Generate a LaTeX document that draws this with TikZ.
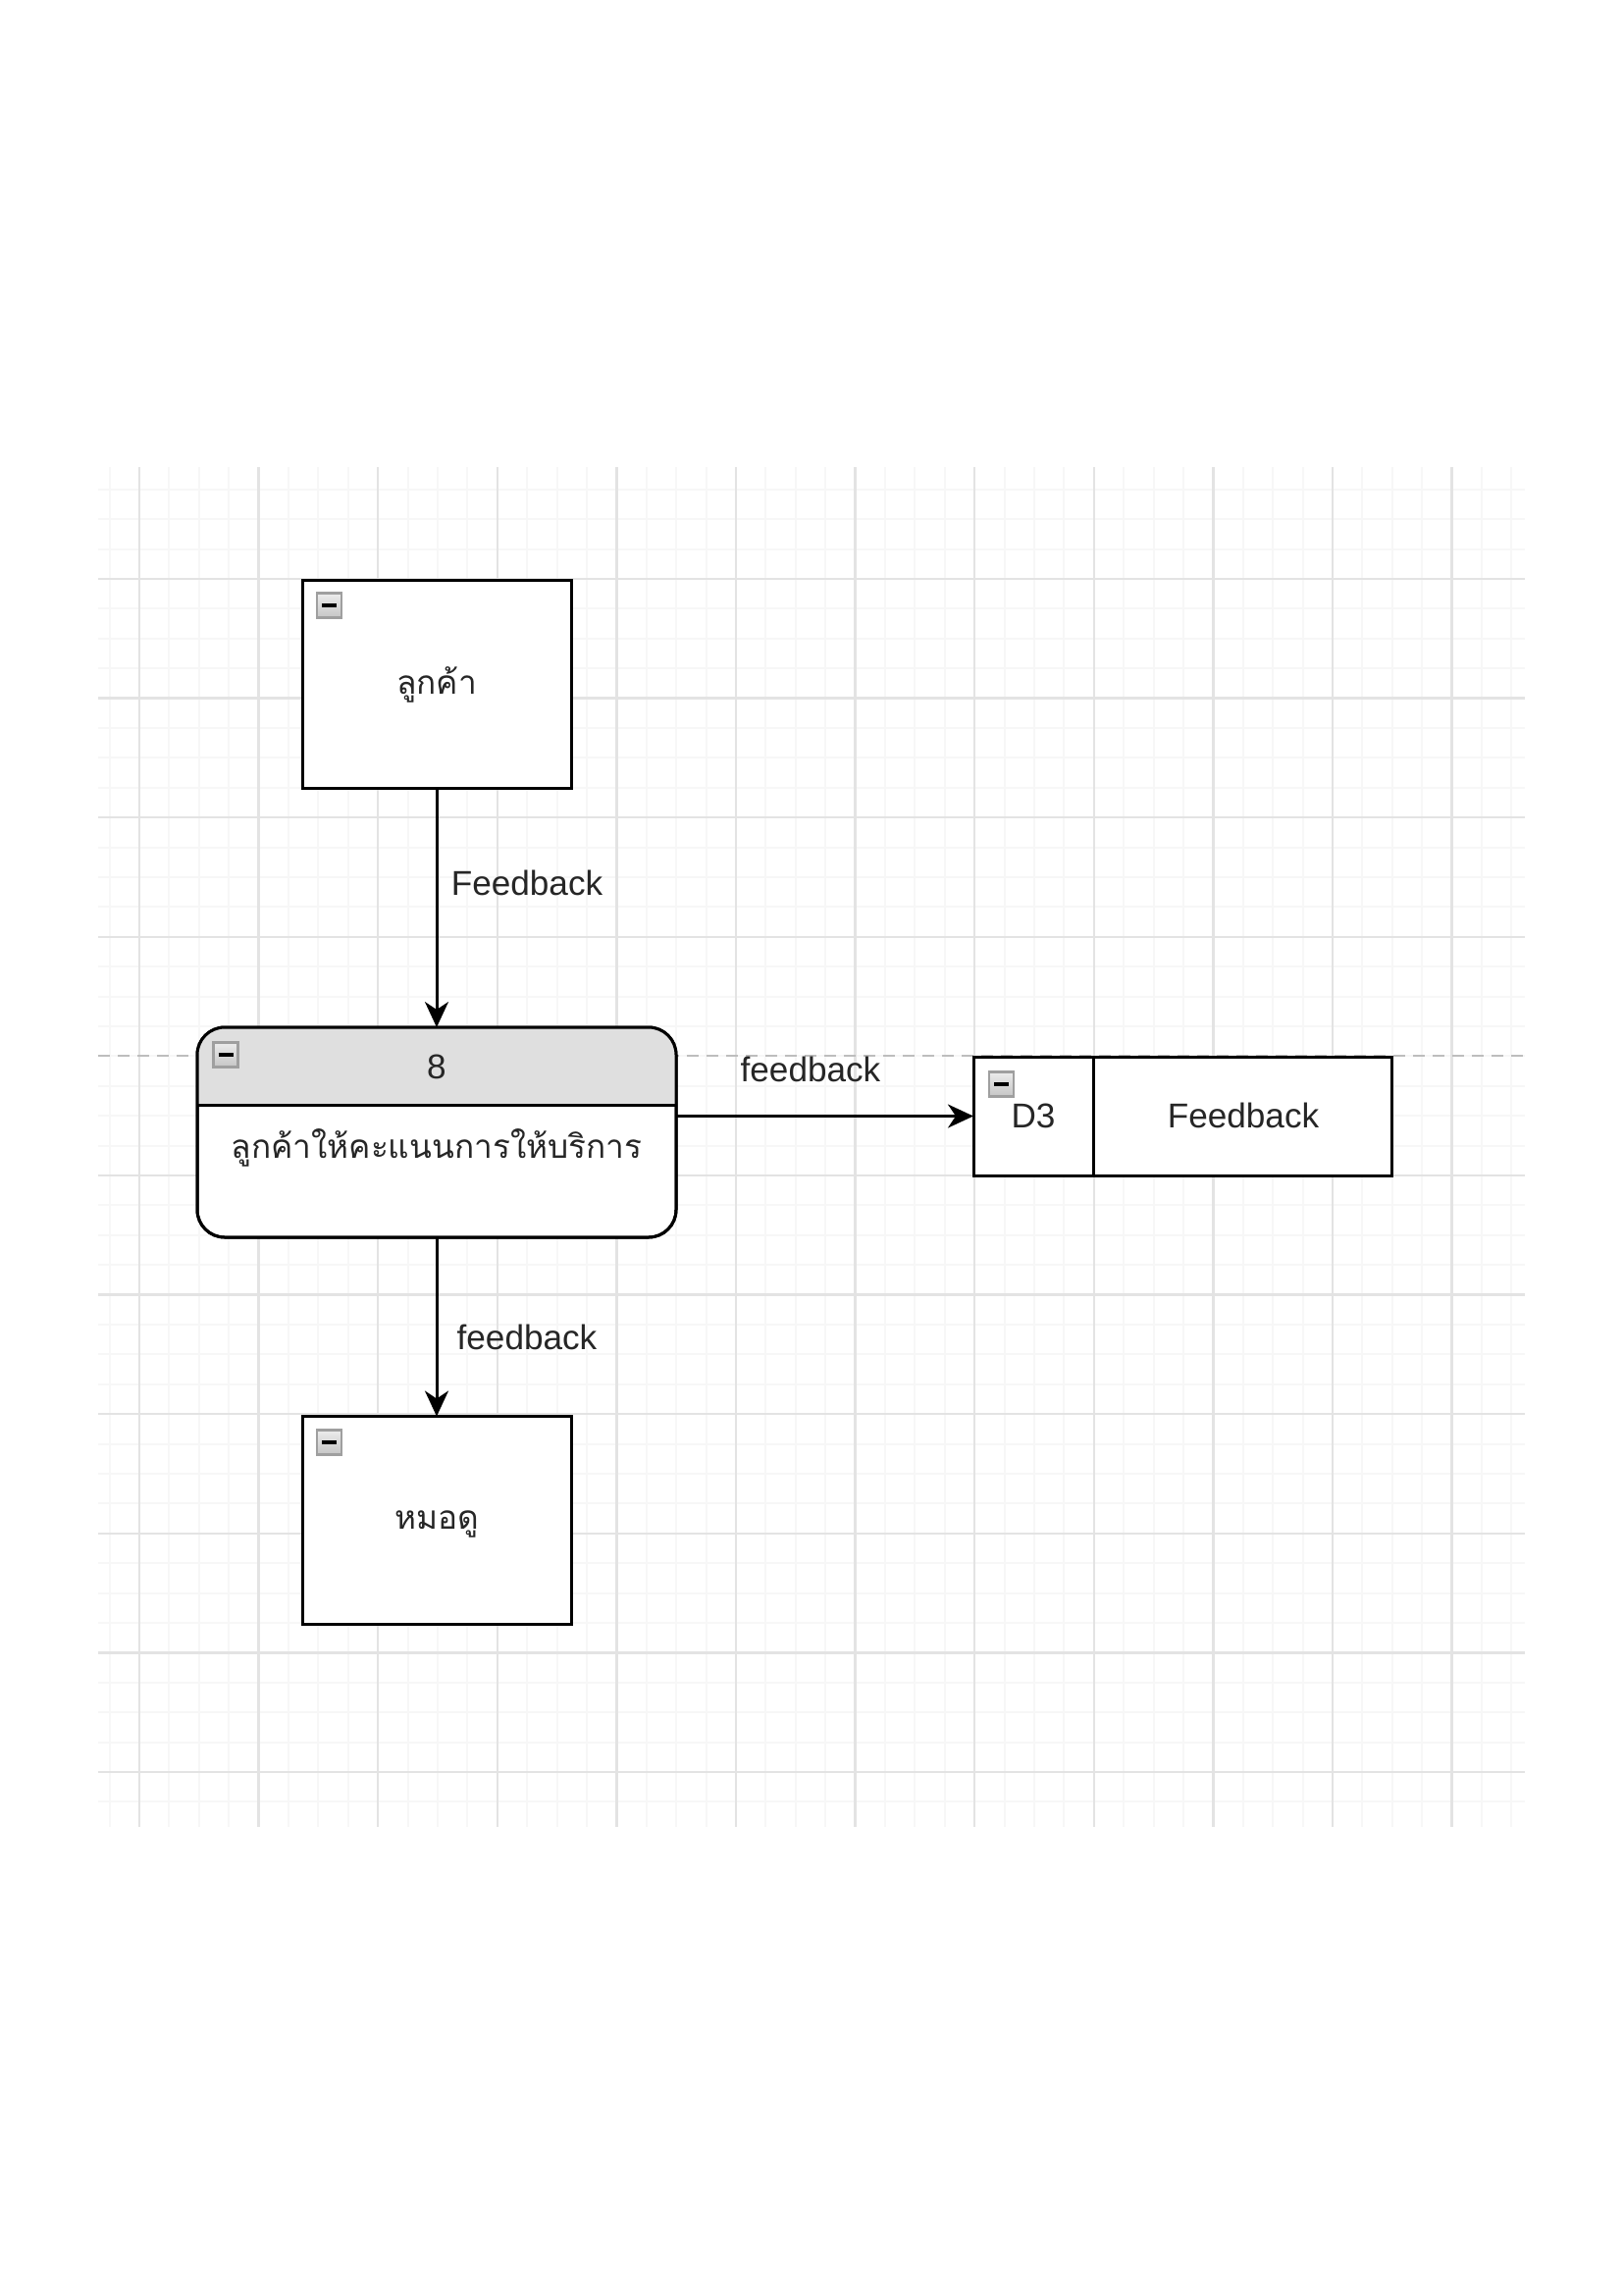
\documentclass[tikz,border=0pt]{standalone}
\usepackage{fontspec}
\setmainfont{Liberation Sans}
\newfontfamily\thaifont[Script=Thai]{Loma}
\usetikzlibrary{arrows.meta}
\definecolor{majorgrid}{HTML}{E3E3E3}
\definecolor{minorgrid}{HTML}{F7F7F7}
\definecolor{dashgray}{HTML}{BDBDBD}
\definecolor{hdrgray}{HTML}{DFDFDF}
\tikzset{
  majorline/.style={draw=majorgrid, line width=0.25mm},
  minorline/.style={draw=minorgrid, line width=0.2mm},
  dashline/.style={draw=dashgray, line width=0.2mm, dash pattern=on 1.2mm off 0.8mm},
  boxline/.style={draw=black, line width=0.3mm},
  entitybox/.style={boxline, fill=white, minimum width=27.4mm, minimum height=21.2mm, inner sep=0pt, outer sep=0pt},
  procnode/.style={boxline, fill=white, rounded corners=2.8mm, minimum width=48.8mm, minimum height=21.4mm, inner sep=0pt, outer sep=0pt},
  storebox/.style={boxline, fill=white, minimum width=42.6mm, minimum height=12.1mm, inner sep=0pt, outer sep=0pt},
  txt/.style={font=\fontsize{10}{12}\selectfont, text=black!85, inner sep=0pt},
  thaitxt/.style={font=\thaifont\fontsize{9.5}{12}\selectfont, text=black!85, inner sep=0pt, anchor=base},
  flow/.style={draw=black, line width=0.3mm, -{Stealth[length=2.6mm, width=2.4mm, inset=0.8mm]}},
  minusicon/.style={draw=gray!75, line width=0.25mm, top color=gray!15, bottom color=gray!45,
    minimum size=2.5mm, inner sep=0pt,
    path picture={\draw[black, line width=0.35mm]
      ([xshift=-0.75mm]path picture bounding box.center) -- ([xshift=0.75mm]path picture bounding box.center);}}
}
\begin{document}
\begin{tikzpicture}[x=0.1mm, y=-0.1mm]
\fill[white] (0,0) rectangle (1654,2338);
\useasboundingbox (0,0) rectangle (1654,2338);
% grid
\foreach \i in {-1,...,46} \draw[minorline] ({142+30.4*\i},476) -- ({142+30.4*\i},1862);
\foreach \j in {-3,...,41} \draw[minorline] (100,{590+30.4*\j}) -- (1554,{590+30.4*\j});
\foreach \i in {0,...,11} \draw[majorline] ({142+121.6*\i},476) -- ({142+121.6*\i},1862);
\foreach \j in {0,1,2,3,5,6,7,8,9,10} \draw[majorline] (100,{590+121.6*\j}) -- (1554,{590+121.6*\j});
\draw[dashline] (100,1076) -- (1554,1076);

% entities
\node[entitybox] (cust) at (445,697) {};
\node[thaitxt] (custtxt) at (445,707) {ลูกค้า};
\node[minusicon] (custicon) at (335.5,617) {};

\node[entitybox] (hmd) at (445,1549.5) {};
\node[thaitxt] (hmdtxt) at (445,1558) {หมอดู};
\node[minusicon] (hmdicon) at (335.5,1470) {};

% process
\node[procnode] (proc) at (445,1154) {};
\coordinate (hdr) at (445,1126);
\begin{scope}
  \clip[rounded corners=2.8mm] (proc.south west) rectangle (proc.north east);
  \fill[hdrgray] (proc.north west) rectangle (proc.east |- hdr);
\end{scope}
\draw[boxline, rounded corners=2.8mm] (proc.south west) rectangle (proc.north east);
\draw[boxline] (proc.west |- hdr) -- (proc.east |- hdr);
\node[txt] (procnum) at (445,1087) {8};
\node[thaitxt] (proctxt) at (445,1180) {ลูกค้าให้คะแนนการให้บริการ};
\node[minusicon] (procicon) at (230,1075) {};

% data store
\node[storebox] (d3) at (1205,1137.5) {};
\coordinate (d3div) at (1114,1137.5);
\draw[boxline] (d3div |- d3.north) -- (d3div |- d3.south);
\node[txt] (d3id) at (1053,1137) {D3};
\node[txt] (d3name) at (1267,1137) {Feedback};
\node[minusicon] (d3icon) at (1020.5,1105) {};

% flows
\draw[flow] (cust) -- (proc);
\node[txt] (lbl1) at (537,900) {Feedback};
\draw[flow] (proc.east |- d3.west) -- (d3.west);
\node[txt] (lbl2) at (826,1090) {feedback};
\draw[flow] (proc) -- (hmd);
\node[txt] (lbl3) at (537,1363) {feedback};
\end{tikzpicture}
\end{document}
